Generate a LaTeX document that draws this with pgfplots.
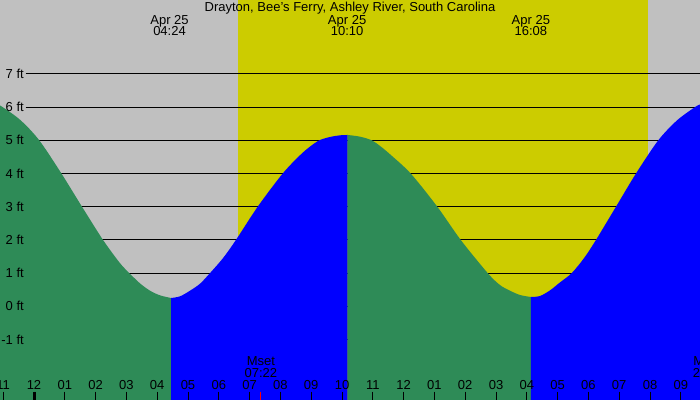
\documentclass[border=0pt]{standalone}
\usepackage{fontspec}
\setmainfont{Liberation Sans}
\usepackage{pgfplots}
\pgfplotsset{compat=1.18}
\definecolor{bggray}{RGB}{192,192,192}
\definecolor{dayyellow}{RGB}{204,204,0}
\definecolor{tidegreen}{RGB}{46,139,87}
\definecolor{tideblue}{RGB}{0,0,255}
\begin{document}
\begin{tikzpicture}[font=\fontsize{13bp}{14bp}\selectfont]
\useasboundingbox (0,0) rectangle (700bp,400bp);
\clip (0,0) rectangle (700bp,400bp);
\fill[bggray] (0,0) rectangle (700bp,400bp);
\begin{axis}[at={(0,0)}, anchor=south west, width=700bp, height=400bp,
  scale only axis, axis lines=none,
  xmin=-1.1039, xmax=21.6234, ymin=-2.8223, ymax=9.2259, clip=true]
% daylight
\addplot[draw=none, fill=dayyellow] coordinates {(6.614,-3.5) (19.925,-3.5) (19.925,10) (6.614,10)} -- cycle;
% level lines
\pgfplotsinvokeforeach{-1,...,7}{\draw[black, line width=1bp] (axis cs:-0.27,#1) -- (axis cs:23,#1);}
% falling (green)
\addplot[draw=none, fill=tidegreen, smooth] coordinates {
(-1.5,6.24) (-1.104,6.05) (-0.455,5.62) (0.162,5.01) (0.877,4.02) (1.558,3.0) (2.240,2.0) (2.792,1.30) (3.117,0.98) (3.442,0.69) (3.766,0.47) (4.091,0.33) (4.448,0.25)
} -- (axis cs:4.448,-3.5) -- (axis cs:-1.5,-3.5) -- cycle;
% rising (blue)
\addplot[draw=none, fill=tideblue, smooth] coordinates {
(4.448,0.25) (4.740,0.30) (5.065,0.47) (5.390,0.68) (5.714,1.0) (6.136,1.45) (6.558,2.0) (7.263,3.0) (8.075,4.0) (8.636,4.55) (8.961,4.81) (9.263,5.0) (9.610,5.10) (9.935,5.15) (10.185,5.16)
} -- (axis cs:10.185,-3.5) -- (axis cs:4.448,-3.5) -- cycle;
% falling (green)
\addplot[draw=none, fill=tidegreen, smooth] coordinates {
(10.185,5.16) (10.584,5.11) (10.964,5.0) (11.234,4.83) (11.558,4.58) (12.230,4.0) (13.094,3.0) (13.854,2.0) (14.731,1.0) (15.130,0.64) (15.455,0.47) (15.779,0.34) (16.136,0.28)
} -- (axis cs:16.136,-3.5) -- (axis cs:10.185,-3.5) -- cycle;
% rising (blue)
\addplot[draw=none, fill=tideblue, smooth] coordinates {
(16.136,0.28) (16.429,0.31) (16.753,0.48) (17.078,0.72) (17.458,1.0) (17.857,1.45) (18.247,2.0) (18.896,3.0) (19.545,4.0) (20.269,5.0) (20.877,5.6) (21.461,6.0) (21.623,6.08) (22.0,6.25)
} -- (axis cs:22.0,-3.5) -- (axis cs:16.136,-3.5) -- cycle;
% left labels
\pgfplotsinvokeforeach{-1,...,7}{\node[anchor=east, inner sep=0pt] at (axis cs:-0.325,#1) {#1 ft};}
% title and extremes
\node[anchor=base, inner sep=0pt] at (axis cs:10.26,8.873) {Drayton, Bee's Ferry, Ashley River, South Carolina};
\node[anchor=base, inner sep=0pt] at (axis cs:4.4,8.494) {Apr 25};
\node[anchor=base, inner sep=0pt] at (axis cs:4.4,8.163) {04:24};
\node[anchor=base, inner sep=0pt] at (axis cs:10.167,8.494) {Apr 25};
\node[anchor=base, inner sep=0pt] at (axis cs:10.167,8.163) {10:10};
\node[anchor=base, inner sep=0pt] at (axis cs:16.133,8.494) {Apr 25};
\node[anchor=base, inner sep=0pt] at (axis cs:16.133,8.163) {16:08};
% moon
\node[anchor=base, inner sep=0pt] at (axis cs:7.367,-1.789) {Mset};
\node[anchor=base, inner sep=0pt] at (axis cs:7.367,-2.139) {07:22};
\node[anchor=base, inner sep=0pt] at (axis cs:21.92,-1.789) {Mrise};
\node[anchor=base, inner sep=0pt] at (axis cs:21.92,-2.139) {21:55};
% hour ticks
\pgfplotsinvokeforeach{-1,...,21}{\draw[black, line width=1bp] (axis cs:#1,-2.572) -- (axis cs:#1,-3);}
\draw[black, line width=3bp] (axis cs:0,-2.572) -- (axis cs:0,-3);
\draw[red, line width=1bp] (axis cs:7.367,-2.572) -- (axis cs:7.367,-3);
\draw[red, line width=1bp] (axis cs:21.92,-2.572) -- (axis cs:21.92,-3);
% hour labels
\node[anchor=base, inner sep=0pt] at (axis cs:-1,-2.521) {11};
\node[anchor=base, inner sep=0pt] at (axis cs:0,-2.521) {12};
\node[anchor=base, inner sep=0pt] at (axis cs:1,-2.521) {01};
\node[anchor=base, inner sep=0pt] at (axis cs:2,-2.521) {02};
\node[anchor=base, inner sep=0pt] at (axis cs:3,-2.521) {03};
\node[anchor=base, inner sep=0pt] at (axis cs:4,-2.521) {04};
\node[anchor=base, inner sep=0pt] at (axis cs:5,-2.521) {05};
\node[anchor=base, inner sep=0pt] at (axis cs:6,-2.521) {06};
\node[anchor=base, inner sep=0pt] at (axis cs:7,-2.521) {07};
\node[anchor=base, inner sep=0pt] at (axis cs:8,-2.521) {08};
\node[anchor=base, inner sep=0pt] at (axis cs:9,-2.521) {09};
\node[anchor=base, inner sep=0pt] at (axis cs:10,-2.521) {10};
\node[anchor=base, inner sep=0pt] at (axis cs:11,-2.521) {11};
\node[anchor=base, inner sep=0pt] at (axis cs:12,-2.521) {12};
\node[anchor=base, inner sep=0pt] at (axis cs:13,-2.521) {01};
\node[anchor=base, inner sep=0pt] at (axis cs:14,-2.521) {02};
\node[anchor=base, inner sep=0pt] at (axis cs:15,-2.521) {03};
\node[anchor=base, inner sep=0pt] at (axis cs:16,-2.521) {04};
\node[anchor=base, inner sep=0pt] at (axis cs:17,-2.521) {05};
\node[anchor=base, inner sep=0pt] at (axis cs:18,-2.521) {06};
\node[anchor=base, inner sep=0pt] at (axis cs:19,-2.521) {07};
\node[anchor=base, inner sep=0pt] at (axis cs:20,-2.521) {08};
\node[anchor=base, inner sep=0pt] at (axis cs:21,-2.521) {09};
\end{axis}
\end{tikzpicture}
\end{document}
